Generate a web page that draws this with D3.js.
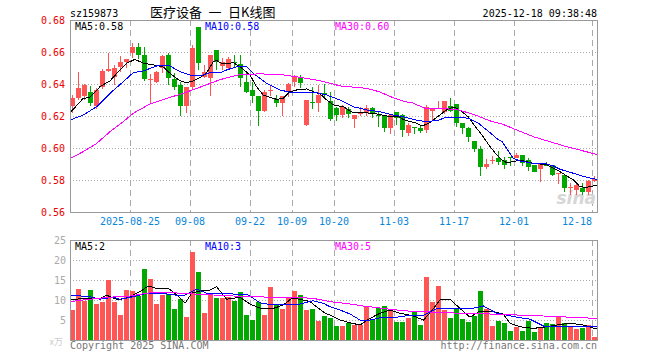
<!DOCTYPE html>
<html lang="zh">
<head>
<meta charset="UTF-8">
<title>sz159873</title>
<style>
    body { margin: 0; background: #fff; }
    text { font-family: 'DejaVu Sans Mono', monospace; font-size: 10px; }
</style>
</head>
<body>
<svg id="svgId"></svg>
<script src="https://cdn.jsdelivr.net/npm/d3@7"></script>
<script>

    // Trading days shown (2025)
    const dates = [
        '08-11','08-12','08-13','08-14','08-15','08-18','08-19','08-20','08-21','08-22',
        '08-25','08-26','08-27','08-28','08-29',
        '09-01','09-02','09-03','09-04','09-05','09-08','09-09','09-10','09-11','09-12',
        '09-15','09-16','09-17','09-18','09-19','09-22','09-23','09-24','09-25','09-26','09-29','09-30',
        '10-09','10-10','10-13','10-14','10-15','10-16','10-17','10-20','10-21','10-22','10-23','10-24',
        '10-27','10-28','10-29','10-30','10-31',
        '11-03','11-04','11-05','11-06','11-07','11-10','11-11','11-12','11-13','11-14',
        '11-17','11-18','11-19','11-20','11-21','11-24','11-25','11-26','11-27','11-28',
        '12-01','12-02','12-03','12-04','12-05','12-08','12-09','12-10','12-11','12-12',
        '12-15','12-16','12-17','12-18'];

    const openP = [0.6265,0.6315,0.6325,0.635,0.6265,0.638,0.648,0.6446,0.6504,0.654,
        0.6596,0.663,0.658,0.6427,0.641,0.650,0.658,0.643,0.6394,0.6265,
        0.6383,0.6755,0.6446,0.6435,0.661,0.651,0.650,0.654,0.6523,0.6412,
        0.6363,0.6325,0.6233,0.636,0.6304,0.628,0.6352,0.6415,0.6442,0.6144,
        0.6285,0.6283,0.6345,0.6294,0.6248,0.6206,0.6244,0.6181,0.6213,0.622,
        0.6248,0.6208,0.6206,0.6123,0.6227,0.6206,0.6096,0.6130,0.6127,0.6113,
        0.6231,0.6245,0.6227,0.6263,0.6275,0.6158,0.6123,0.6044,0.5994,0.5879,
        0.5922,0.5935,0.5925,0.5943,0.5935,0.5956,0.5925,0.5894,0.5867,0.5896,
        0.5894,0.5838,0.5831,0.5756,0.5738,0.5748,0.5727,0.5796];
    const highP = [0.633,0.6475,0.640,0.639,0.6375,0.6495,0.6596,0.652,0.6575,0.6558,
        0.6654,0.6654,0.6633,0.6463,0.6483,0.658,0.6596,0.6467,0.6415,0.638,
        0.6644,0.6755,0.652,0.658,0.661,0.656,0.657,0.6581,0.658,0.6467,
        0.6415,0.6325,0.6365,0.6394,0.6333,0.6325,0.6405,0.6456,0.6456,0.630,
        0.6383,0.6394,0.640,0.6348,0.6258,0.6270,0.6258,0.6206,0.6258,0.6269,
        0.6258,0.6227,0.6206,0.6215,0.6227,0.6215,0.6156,0.6130,0.6135,0.6267,
        0.6252,0.6296,0.6296,0.631,0.6275,0.6158,0.6133,0.6044,0.6015,0.5931,
        0.5950,0.598,0.5946,0.5946,0.5971,0.5956,0.5940,0.5894,0.5904,0.5915,
        0.5894,0.5846,0.5831,0.5781,0.5790,0.5781,0.5800,0.5825];
    const lowP = [0.622,0.630,0.630,0.626,0.6245,0.637,0.6477,0.6394,0.6473,0.650,
        0.656,0.6554,0.642,0.6273,0.6406,0.6467,0.6394,0.6363,0.620,0.622,
        0.6363,0.649,0.6435,0.6325,0.6488,0.649,0.6494,0.6508,0.6383,0.6346,
        0.6279,0.614,0.6225,0.6325,0.6256,0.620,0.6319,0.6383,0.6373,0.6138,
        0.6242,0.6227,0.6306,0.6171,0.6171,0.6185,0.6185,0.6123,0.6200,0.620,
        0.6185,0.6133,0.6102,0.6090,0.6144,0.6071,0.6075,0.6085,0.6092,0.6092,
        0.6175,0.6242,0.6215,0.6225,0.6133,0.6090,0.6040,0.5977,0.5827,0.5867,
        0.5900,0.5892,0.5869,0.5890,0.5935,0.5885,0.5858,0.5852,0.5789,0.5885,
        0.5822,0.5775,0.5727,0.5706,0.5706,0.5706,0.5706,0.5790];
    const closeP = [0.6315,0.6373,0.6394,0.628,0.636,0.648,0.6494,0.650,0.654,0.6556,
        0.6633,0.658,0.643,0.643,0.6473,0.6575,0.6435,0.638,0.6265,0.638,
        0.6623,0.653,0.6473,0.658,0.654,0.6535,0.6555,0.653,0.6440,0.6352,
        0.6327,0.6233,0.6348,0.6365,0.628,0.6325,0.640,0.6446,0.6404,0.630,
        0.628,0.6331,0.6335,0.6181,0.6206,0.6258,0.6213,0.6206,0.6227,0.6248,
        0.6217,0.6200,0.6123,0.6206,0.6185,0.6113,0.6144,0.6127,0.6108,0.6254,
        0.6248,0.6248,0.6296,0.6233,0.6158,0.6123,0.6067,0.5994,0.5879,0.5900,
        0.5925,0.5915,0.5894,0.5940,0.5956,0.5904,0.5883,0.5852,0.5904,0.5892,
        0.5831,0.5846,0.5752,0.5758,0.5769,0.5727,0.5796,0.5804];

    // Volume, in units of 10k
    const volume = [7.5,12.75,9.8,12.5,9,9.5,15,9.5,6.25,12.5,
        12.25,11,17.75,15.25,9,11.25,11.5,7.75,10.2,5.75,
        22.1,17,6.75,11.5,10.5,10.5,10.75,9.75,12,6.25,
        5,9.5,6.25,13.25,9,7.75,10.75,12.25,11.25,7.5,
        7.75,4.75,6,5.5,3.5,3.5,4.3,3.75,3.75,8.3,
        5.2,8,8.5,7.5,4.5,4.5,5.5,7.25,3.75,15.75,
        9.5,13.5,7.5,5.5,7.8,5.25,4.5,6,12.25,7.75,
        3.5,4.75,4.25,2.25,3.25,2.25,4.75,2,3.25,4.2,
        4,5.8,4.2,3.5,2.8,3,3.75,0.75];

    // Moving averages: [day position, value]
    const ma5 = [[0,0.622],[2.2,0.631],[3.33,0.6317],[5,0.6383],[6.67,0.642],[8.33,0.6488],[9.45,0.653],
        [10.83,0.6554],[12.2,0.653],[13.9,0.6519],[15.5,0.6508],[16.67,0.6467],[18.33,0.642],[19.45,0.6408],
        [20.55,0.642],[21.67,0.644],[22.8,0.6472],[23.9,0.654],[24.45,0.6546],[25.55,0.6525],[27.2,0.6533],
        [28.33,0.6508],[30,0.6456],[31.1,0.6383],[32.2,0.6331],[33.33,0.6317],[34.45,0.6304],[35.55,0.631],
        [36.67,0.6352],[37.8,0.6363],[39.45,0.6369],[40.55,0.6352],[41.67,0.6338],[42.8,0.630],[43.9,0.6269],
        [45.55,0.6258],[47.2,0.622],[48.9,0.622],[50.55,0.6217],[52.8,0.620],[54.45,0.620],[55.55,0.6179],
        [56.67,0.6165],[57.55,0.6158],[58.67,0.6138],[59.8,0.6154],[60.9,0.6185],[62,0.6217],[63.1,0.6248],
        [64.2,0.6254],[65.33,0.6227],[66.45,0.6192],[67.55,0.6133],[68.67,0.6081],[69.8,0.6019],[70.9,0.5967],
        [72,0.5925],[72.8,0.5908],[73.9,0.5915],[75,0.5925],[76.1,0.5915],[77.2,0.5904],[78.33,0.590],
        [79.45,0.5894],[80.55,0.5873],[81.67,0.5852],[82.8,0.5825],[83.9,0.580],[85,0.5758],[86.1,0.5754],
        [87.2,0.5763],[87.8,0.5767]];
    const ma10 = [[0,0.6175],[2.2,0.6206],[4.45,0.6258],[6.67,0.6342],[8.9,0.6415],[10.55,0.6471],[12.2,0.6481],
        [14.45,0.6513],[16.67,0.6513],[18.33,0.6477],[20,0.6456],[21.67,0.645],[23.33,0.647],[25,0.647],
        [26.1,0.6488],[27.8,0.6508],[29.45,0.6508],[30.55,0.6467],[32.8,0.6404],[35,0.6363],[36.67,0.6348],
        [38.9,0.6346],[41.1,0.6346],[42.8,0.6331],[45,0.630],[47.2,0.6258],[49.45,0.6238],[51.67,0.6227],
        [53.9,0.6206],[55.9,0.6192],[58.1,0.6171],[59.8,0.6165],[61.45,0.6175],[62.55,0.619],[63.67,0.6192],
        [65.33,0.6192],[66.45,0.6185],[68.1,0.6154],[69.8,0.6102],[71.45,0.605],[72,0.604],[73.9,0.5935],
        [75,0.5919],[77.2,0.5904],[79.45,0.590],[80.55,0.5888],[81.67,0.5867],[83.9,0.5842],[86.1,0.5817],
        [87.8,0.5804]];
    const ma30 = [[0,0.5935],[2.2,0.5977],[4.45,0.6029],[6.67,0.6102],[8.9,0.6165],[10.55,0.6217],[13.33,0.6275],
        [16.1,0.631],[18.9,0.6342],[21.67,0.638],[25,0.6427],[28.33,0.646],[31.67,0.6463],[35,0.646],
        [38.33,0.6442],[41.67,0.6421],[45,0.6388],[49.45,0.6373],[51.67,0.635],[53.67,0.6317],[55.8,0.629],
        [57,0.6283],[59.2,0.6248],[62,0.6248],[64.8,0.6238],[67.55,0.6206],[70.33,0.6165],[72,0.615],
        [77.2,0.6071],[82.8,0.6008],[87.8,0.596]];

    const vma5 = [[0,10],[2.2,10.4],[5,10.4],[6.1,11.2],[8.05,10],[10,10.8],[11.67,12.1],[13.05,13.5],[14.45,12.9],
        [16.4,12.9],[17.8,11.25],[19.17,9.2],[20.3,11.7],[21.67,12.25],[23.33,12.5],[24.45,13.3],[26.1,10.2],
        [27.2,10.4],[28.33,10.7],[30,9],[31.1,8.3],[32.2,7.75],[33.9,7.9],[35.55,8.75],[36.95,10.4],[38.33,10.2],
        [40,9.6],[41.1,8.3],[42.5,6.7],[43.33,6.25],[45,5],[46.67,4.3],[48.33,3.75],[50,5.4],[51.67,6.7],
        [53.33,7.5],[55,6.7],[57.2,6],[58.9,5],[60,6.7],[61.67,10],[63.33,10.2],[65,7.9],[66.67,5.7],[68.33,7.25],
        [70.55,7.1],[72.2,6.5],[73.33,4.2],[75,3.3],[77.2,2.9],[78.9,3.2],[81.1,3.75],[83.33,4.2],[85.55,3.75],
        [87.8,2.75]];
    const vma10 = [[0,11.25],[3.33,10.8],[5,10.2],[7.2,10.7],[8.33,10.2],[10.55,10.8],[12.8,11.7],[16.1,11.5],
        [18.9,11],[21.1,12.7],[22.8,11.7],[27.2,11.5],[29.45,11.5],[31.67,9.3],[32.8,9],[36.1,9],[38.33,9],
        [40.55,9.8],[42.2,9.2],[43.33,8.3],[45,7.5],[46.67,6.5],[48.33,5],[50,5],[52.2,5.7],[54.45,5.7],
        [56.67,6.2],[58.9,6.2],[61.1,7.8],[63.33,7.8],[66.67,7.8],[68.9,8.5],[71.1,6.7],[74.45,5.7],[76.67,5.2],
        [78.9,3.5],[82.2,3.5],[85.55,3.5],[87.8,3.5]];
    const vma30 = [[0,9.6],[3.33,10.2],[6.67,10.7],[10,11],[13.33,11.8],[17.2,11.8],[20.55,11.5],[23.9,11.25],
        [27.2,11],[30.55,10.8],[33.9,10.7],[37.2,10.7],[40.55,10.4],[43.33,9.6],[46.67,9],[48.9,8.5],[52.2,7.9],
        [55.55,7.3],[58.9,7.1],[62.2,6.8],[65.55,6.7],[70,6.5],[74.45,6.25],[78.9,6],[83.33,5.7],[87.8,5.4]];

    const priceTicks = [0.56, 0.58, 0.60, 0.62, 0.64, 0.66, 0.68];
    const volTicks = [5, 10, 15, 20, 25];
    const tickDates = ['08-25','09-08','09-22','10-09','10-20','11-03','11-17','12-01','12-18'];
    const tickLabels = ['2025-08-25','09-08','09-22','10-09','10-20','11-03','11-17','12-01','12-18'];

    // Layout
    const svgWidth = 660, svgHeight = 360;
    const left = 70, right = 598;
    const priceTop = 20, priceBottom = 212;
    const volTop = 240, volBottom = 340;
    const red = '#ff5555', green = '#00a800';

    const svg = d3.select('#svgId')
        .attr('width', svgWidth)
        .attr('height', svgHeight);

    const x = d3.scaleBand().domain(dates).range([left, right]);
    const xPos = d3.scaleLinear().domain([0, dates.length]).range([left, right]);
    const yPrice = d3.scaleLinear().domain([0.56, 0.68]).range([priceBottom, priceTop]);
    const yVol = d3.scaleLinear().domain([0, 25]).range([volBottom, volTop]);

    const candles = dates.map((d, i) => ({date: d, o: openP[i], h: highP[i], l: lowP[i], c: closeP[i], v: volume[i]}));
    const colorOf = d => d.c >= d.o ? red : green;
    const px = v => Math.round(v) + 0.5;

    // Dotted horizontal grid
    svg.append('g')
        .selectAll('line')
        .data(priceTicks.slice(1, -1)).enter()
        .append('line')
        .attr('x1', left).attr('x2', right)
        .attr('y1', d => px(yPrice(d))).attr('y2', d => px(yPrice(d)))
        .attr('stroke', '#aaa').attr('stroke-dasharray', '1,2');
    svg.append('g')
        .selectAll('line')
        .data(volTicks.slice(0, -1)).enter()
        .append('line')
        .attr('x1', left).attr('x2', right)
        .attr('y1', d => px(yVol(d))).attr('y2', d => px(yVol(d)))
        .attr('stroke', '#aaa').attr('stroke-dasharray', '1,2');

    // Dashed vertical grid
    [[priceTop, priceBottom], [volTop, volBottom]].forEach(([y0, y1]) => {
        svg.append('g')
            .selectAll('line')
            .data(tickDates).enter()
            .append('line')
            .attr('x1', d => px(x(d))).attr('x2', d => px(x(d)))
            .attr('y1', y0).attr('y2', y1)
            .attr('stroke', '#aaa').attr('stroke-dasharray', '6,4');
    });

    // sina watermark
    svg.append('text')
        .attr('x', right - 2).attr('y', 204)
        .attr('text-anchor', 'end')
        .style('font-family', 'DejaVu Sans')
        .style('font-size', '17px')
        .style('font-style', 'italic')
        .style('font-weight', 'bold')
        .attr('fill', '#d6d6d6')
        .text('sina');

    // Candles
    const candleG = svg.append('g').attr('shape-rendering', 'crispEdges');
    candleG.selectAll('line')
        .data(candles).enter()
        .append('line')
        .attr('x1', d => x(d.date) + 2.5).attr('x2', d => x(d.date) + 2.5)
        .attr('y1', d => yPrice(d.h)).attr('y2', d => yPrice(d.l))
        .attr('stroke', colorOf);
    candleG.selectAll('rect')
        .data(candles).enter()
        .append('rect')
        .attr('x', d => x(d.date)).attr('width', 5)
        .attr('y', d => yPrice(Math.max(d.o, d.c)))
        .attr('height', d => Math.max(1, Math.abs(yPrice(d.o) - yPrice(d.c))))
        .attr('fill', colorOf);

    // Volume bars
    svg.append('g').attr('shape-rendering', 'crispEdges')
        .selectAll('rect')
        .data(candles).enter()
        .append('rect')
        .attr('x', d => x(d.date)).attr('width', 5)
        .attr('y', d => yVol(d.v))
        .attr('height', d => volBottom - yVol(d.v))
        .attr('fill', colorOf);

    // MA lines
    const priceLine = d3.line().x(d => xPos(d[0])).y(d => yPrice(d[1]));
    const volLine = d3.line().x(d => xPos(d[0])).y(d => yVol(d[1]));
    const maColors = ['#000000', '#0000ff', '#ff00ff'];
    [ma5, ma10, ma30].forEach((m, k) => {
        svg.append('path').datum(m)
            .attr('d', priceLine)
            .attr('fill', 'none').attr('stroke', maColors[k]).attr('stroke-width', 1)
            .attr('shape-rendering', 'crispEdges');
    });
    [vma5, vma10, vma30].forEach((m, k) => {
        svg.append('path').datum(m)
            .attr('d', volLine)
            .attr('fill', 'none').attr('stroke', maColors[k]).attr('stroke-width', 1)
            .attr('shape-rendering', 'crispEdges');
    });

    // Panel borders
    [[priceTop, priceBottom], [volTop, volBottom]].forEach(([y0, y1]) => {
        svg.append('rect')
            .attr('x', left + 0.5).attr('y', y0 + 0.5)
            .attr('width', right - left - 1).attr('height', y1 - y0)
            .attr('fill', 'none').attr('stroke', '#999');
    });

    // Axes
    const priceAxis = svg.append('g')
        .attr('transform', `translate(${left},0)`)
        .call(d3.axisLeft(yPrice).tickValues(priceTicks).tickSize(0).tickPadding(5).tickFormat(d3.format('.2f')));
    priceAxis.select('.domain').remove();
    priceAxis.selectAll('text').attr('fill', '#ee0000')
        .style('font-family', 'DejaVu Sans Mono').style('font-size', '10px');

    const volAxis = svg.append('g')
        .attr('transform', `translate(${left},0)`)
        .call(d3.axisLeft(yVol).tickValues(volTicks).tickSize(0).tickPadding(4));
    volAxis.select('.domain').remove();
    volAxis.selectAll('text').attr('fill', '#aaa')
        .style('font-family', 'DejaVu Sans Mono').style('font-size', '10px');

    svg.append('text')
        .attr('x', 63).attr('y', 345)
        .attr('text-anchor', 'end')
        .style('font-family', 'Noto Sans CJK SC').style('font-size', '9px')
        .attr('fill', '#ccc')
        .text('x万');

    svg.append('g')
        .selectAll('text')
        .data(tickDates).enter()
        .append('text')
        .attr('x', d => x(d))
        .attr('y', 225)
        .attr('text-anchor', (d, i) => i === tickDates.length - 1 ? 'end' : 'middle')
        .attr('fill', '#0a86d8')
        .text((d, i) => tickLabels[i]);

    // Header
    svg.append('text').attr('x', left).attr('y', 16.5).attr('fill', '#000').text('sz159873');
    svg.append('text').attr('x', 150).attr('y', 16.5)
        .style('font-family', 'Noto Sans CJK SC').style('font-size', '13px')
        .attr('fill', '#000')
        .text('医疗设备\u2002一\u2002日K线图');
    svg.append('text').attr('x', right - 1).attr('y', 16.5)
        .attr('text-anchor', 'end').attr('fill', '#000')
        .text('2025-12-18 09:38:48');

    // Legends
    const legend = [['MA5:0.58', 75, '#000'], ['MA10:0.58', 205, '#0000ff'], ['MA30:0.60', 335, '#ff00ff']];
    const volLegend = [['MA5:2', 75, '#000'], ['MA10:3', 205, '#0000ff'], ['MA30:5', 335, '#ff00ff']];
    svg.append('g').selectAll('text')
        .data(legend).enter()
        .append('text')
        .attr('x', d => d[1]).attr('y', 29.5)
        .attr('fill', d => d[2])
        .text(d => d[0]);
    svg.append('g').selectAll('text')
        .data(volLegend).enter()
        .append('text')
        .attr('x', d => d[1]).attr('y', 249.5)
        .attr('fill', d => d[2])
        .text(d => d[0]);

    // Footer
    svg.append('text').attr('x', left).attr('y', 348.5).attr('fill', '#777').text('Copyright 2025 SINA.COM');
    svg.append('text').attr('x', right - 1).attr('y', 348.5)
        .attr('text-anchor', 'end').attr('fill', '#777')
        .text('http://finance.sina.com.cn');

</script>
</body>
</html>
